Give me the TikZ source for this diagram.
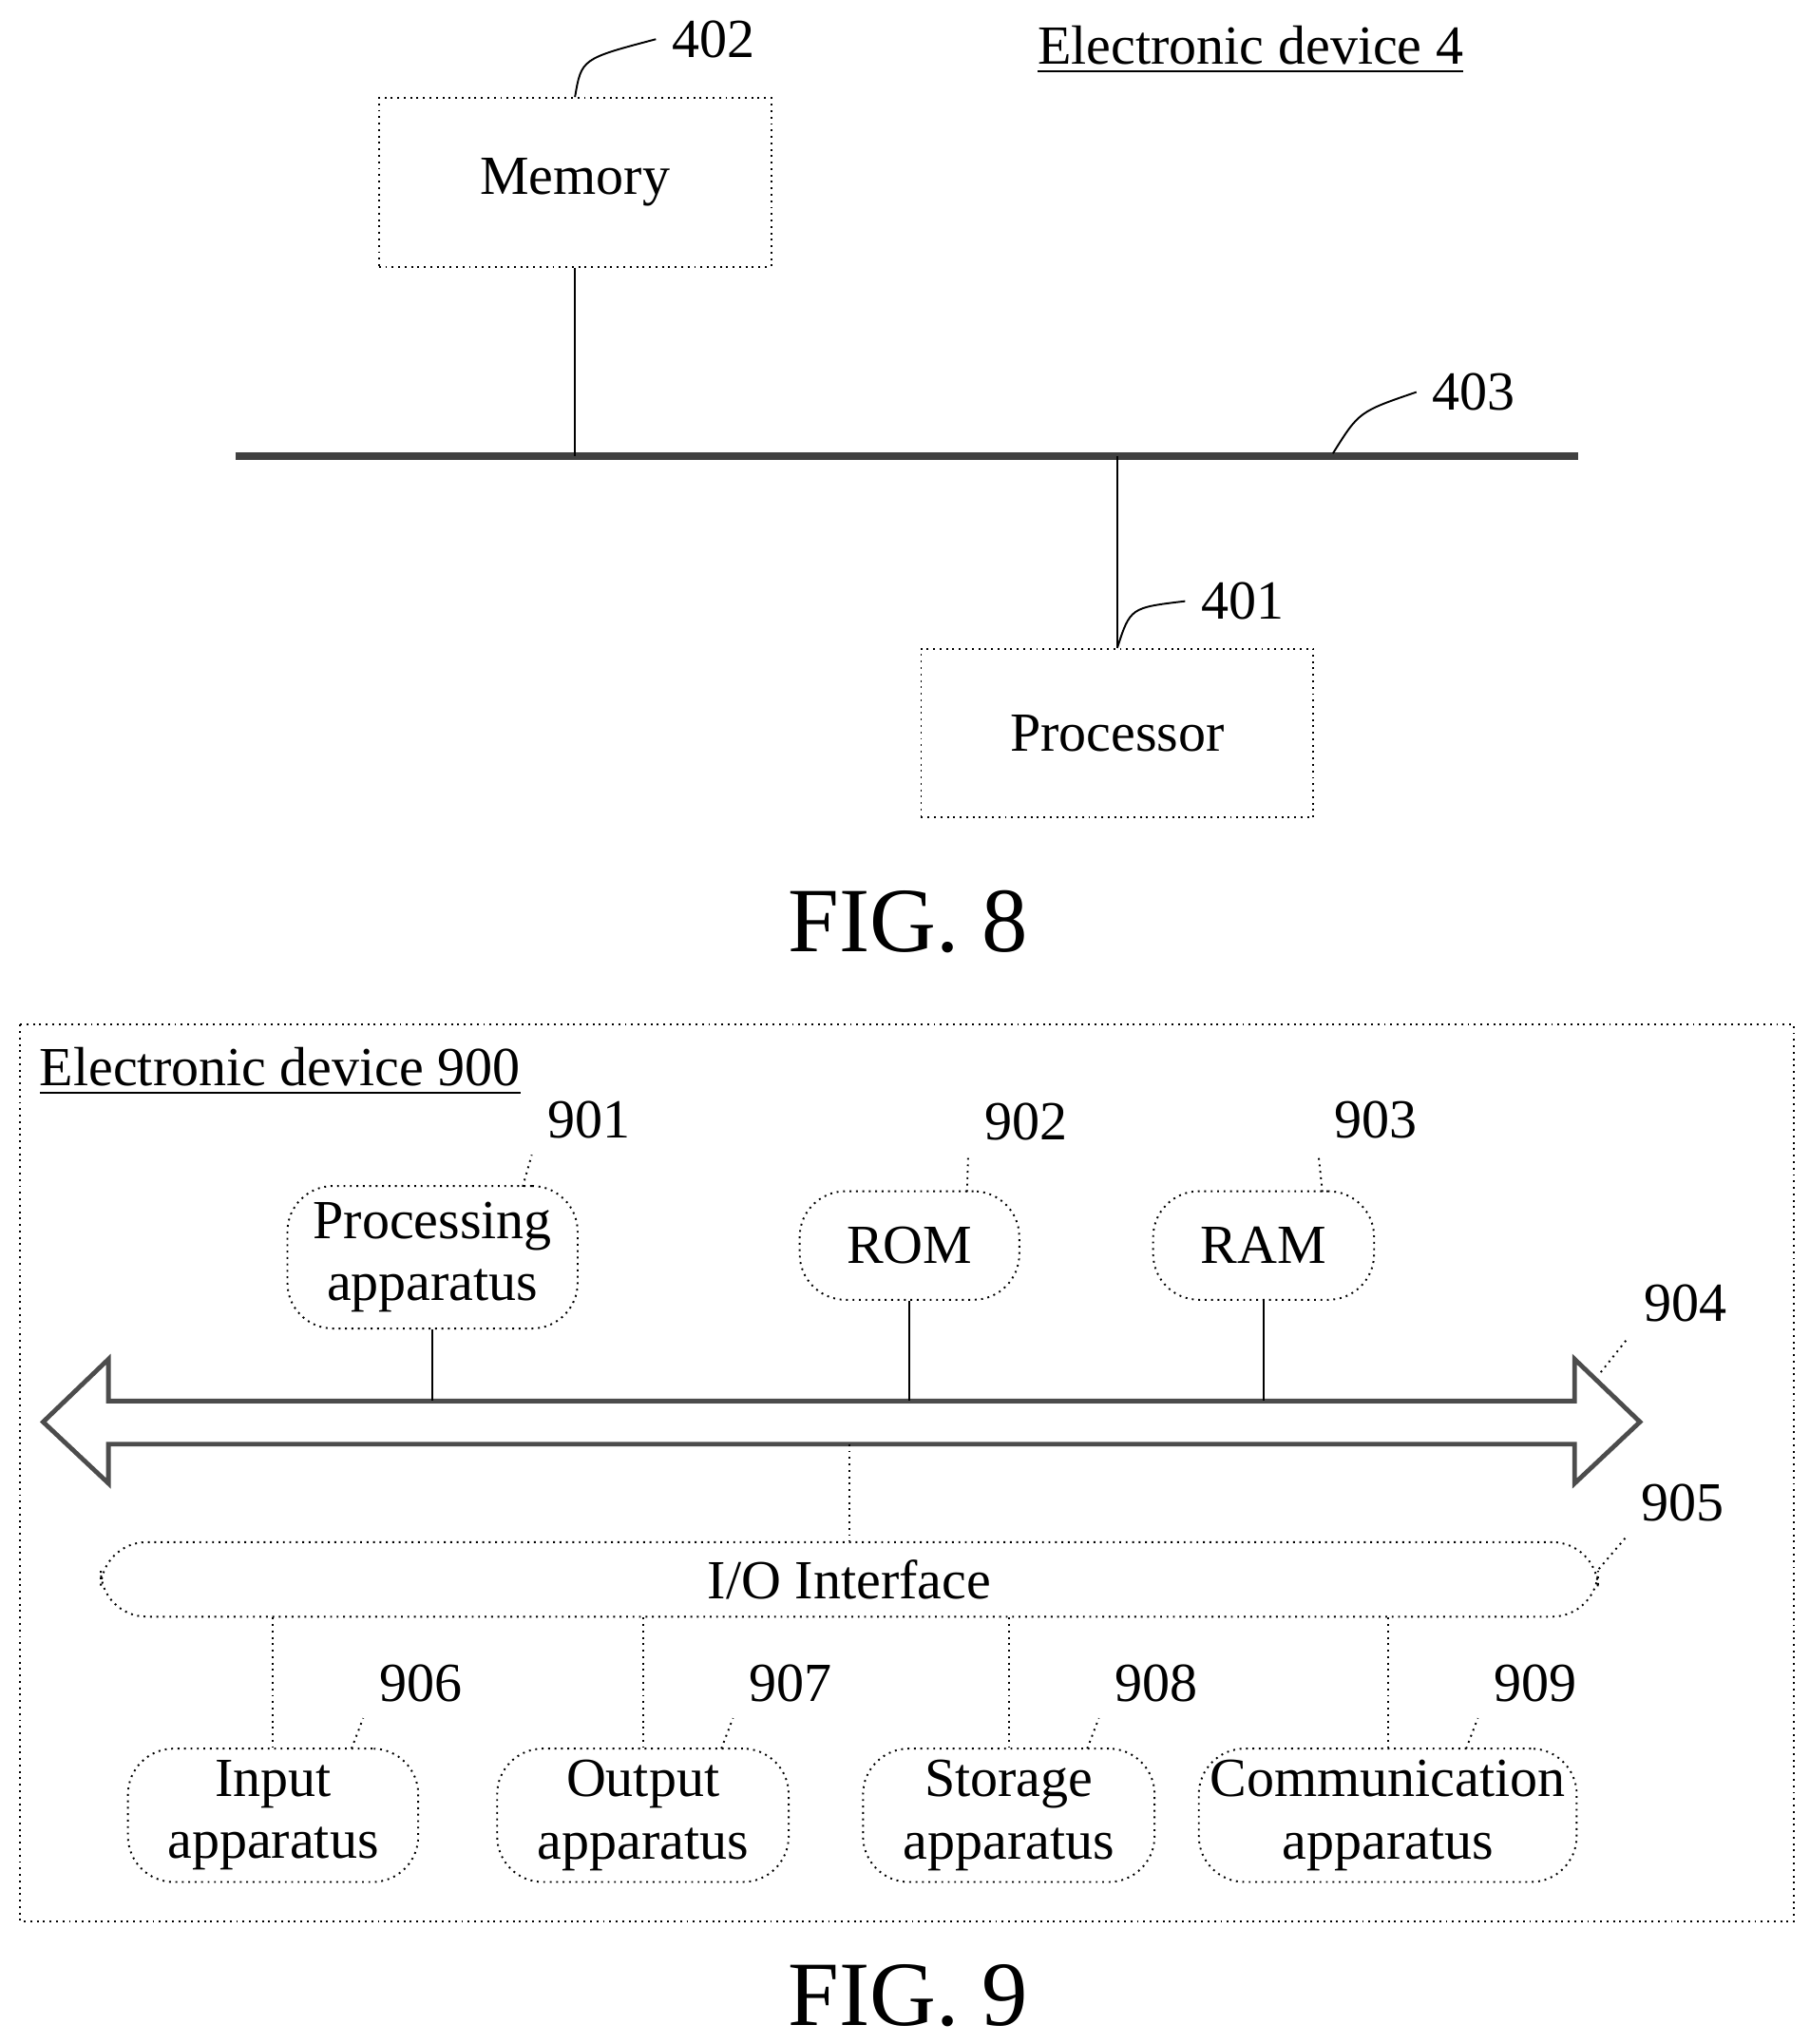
\documentclass[tikz,border=0pt]{standalone}
\usepackage{fontspec}
\setmainfont{Liberation Serif}
\usetikzlibrary{positioning}
\tikzset{
  box/.style={draw,densely dotted,thin,minimum width=3cm,minimum height=1.29cm,font=\fontsize{12}{14}\selectfont},
  rbox/.style={draw,densely dotted,thin,rounded corners=0.35cm,align=center,font=\fontsize{12}{13.5}\selectfont,inner sep=0pt},
  num/.style={font=\fontsize{12}{14}\selectfont},
  lead/.style={thin},
  dlead/.style={thin,densely dotted},
  fig/.style={font=\fontsize{20}{22}\selectfont},
}
\begin{document}
\begin{tikzpicture}[x=0.01cm,y=-0.01cm]
  \useasboundingbox (0,0) rectangle (1385,1564);
  % FIG. 8
  \node[box] (mem) at (440,139.5) {Memory};
  \node[box] (proc) at (855,561) {Processor};
  \node[num] (n402) at (546,30) {402};
  \node[num] (n403) at (1128,300) {403};
  \node[num] (n401) at (951,460) {401};
  \node[num] (dev4) at (957,38) {\underline{Electronic device 4}};
  \coordinate (busl) at (180,349);
  \coordinate (busr) at (1208,349);
  \draw[line width=0.06cm,black!75] (busl) -- (busr);
  \draw[thin] (mem.south) -- (mem.south |- busl);
  \draw[thin] (proc.north |- busl) -- (proc.north);
  \draw[lead] (mem.north) .. controls (445,45) .. (n402.west);
  \draw[lead] (1020,347) .. controls (1040,315) .. (n403.west);
  \draw[lead] (proc.north) .. controls (865,465) .. (n401.west);
  \node[fig] (fig8) at (695,705) {FIG. 8};
  % FIG. 9
  \draw[densely dotted,thin] (15,784) rectangle (1373,1470);
  \node[num,anchor=west] (dev900) at (18,820) {\underline{Electronic device 900}};
  \node[rbox,minimum width=2.22cm,minimum height=1.09cm] (pa) at (331,962) {Processing\\apparatus};
  \node[rbox,minimum width=1.68cm,minimum height=0.83cm] (rom) at (696,953) {ROM};
  \node[rbox,minimum width=1.69cm,minimum height=0.83cm] (ram) at (967,953) {RAM};
  \node[num] (n901) at (451,857) {901};
  \node[num] (n902) at (785,858) {902};
  \node[num] (n903) at (1053,857) {903};
  \node[num] (n904) at (1290,997) {904};
  \node[num] (n905) at (1288,1150) {905};
  \draw[dlead] (400,908) -- (n901.south west);
  \draw[dlead] (740,912) -- (n902.south west);
  \draw[dlead] (1012,912) -- (n903.south west);
  \draw[dlead] (1225,1050) -- (n904.south west);
  % bus arrow
  \draw[line width=0.035cm,black!70,line join=miter]
    (33,1088) -- (83,1040) -- (83,1072) -- (1205,1072) -- (1205,1040) -- (1255,1088)
    -- (1205,1135) -- (1205,1105) -- (83,1105) -- (83,1135) -- cycle;
  \coordinate (bt) at (0,1072);
  \coordinate (bb) at (0,1105);
  \draw[thin] (pa.south) -- (pa.south |- bt);
  \draw[thin] (rom.south) -- (rom.south |- bt);
  \draw[thin] (ram.south) -- (ram.south |- bt);
  \node[rbox,minimum width=11.45cm,minimum height=0.57cm] (io) at (650,1208.5) {I/O Interface};
  \draw[densely dotted,thin] (io.north |- bb) -- (io.north);
  \draw[dlead] (io.east) ++(0,-8) -- (n905.south west);
  \foreach \x/\w/\nm/\lbl/\num in {209/2.22/in/Input/906,492/2.23/out/Output/907,772/2.23/sto/Storage/908,1062/2.89/com/Communication/909}{
    \node[rbox,minimum width=\w cm,minimum height=1.02cm] (\nm) at (\x,1389) {\lbl\\apparatus};
    \node[num] (n\num) at (\x+113,1288) {\num};
    \draw[densely dotted,thin] (\nm.north |- io.south) -- (\nm.north);
    \draw[dlead] (\x+60,1338) -- (n\num.south west);
  }
  \node[fig] (fig9) at (695,1527) {FIG. 9};
\end{tikzpicture}
\end{document}
